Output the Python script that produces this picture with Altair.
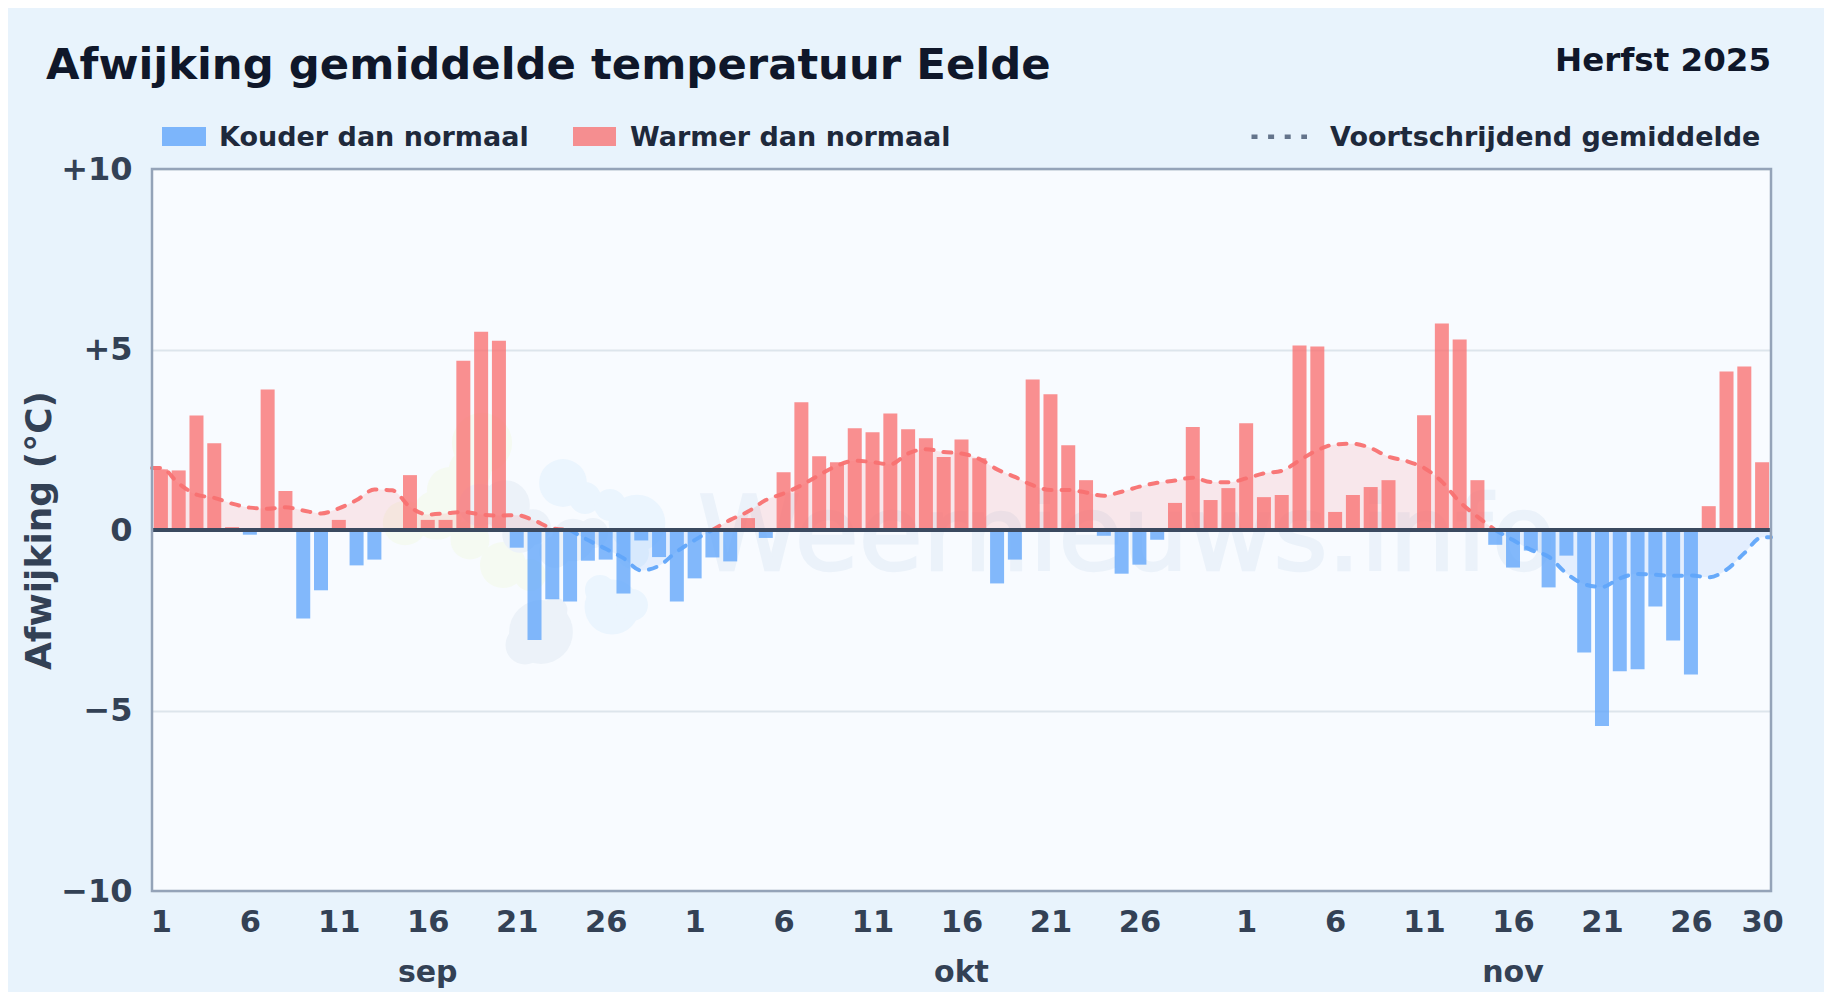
import altair as alt
import pandas as pd

# Daily anomaly values (degC), Sept 1 .. Nov 30
sep_vals = [1.68, 1.65, 3.17, 2.40, 0.08, -0.13, 3.89, 1.08, -2.45, -1.67,
            0.28, -0.98, -0.82, 0.0, 1.52, 0.28, 0.28, 4.69, 5.49, 5.24,
            -0.49, -3.05, -1.92, -1.98, -0.85, -0.82, -1.76, -0.29, -0.75, -1.98]
oct_vals = [-1.34, -0.76, -0.87, 0.33, -0.22, 1.60, 3.54, 2.04, 1.88, 2.82,
            2.71, 3.23, 2.79, 2.54, 2.02, 2.51, 1.99, -1.48, -0.82, 4.17,
            3.76, 2.35, 1.38, -0.16, -1.21, -0.96, -0.27, 0.75, 2.85, 0.83, 1.16]
nov_vals = [2.96, 0.91, 0.97, 5.11, 5.08, 0.50, 0.97, 1.19, 1.38, 0.0,
            3.18, 5.72, 5.28, 1.38, -0.41, -1.04, -0.57, -1.59, -0.71, -3.39,
            -5.43, -3.91, -3.86, -2.12, -3.06, -4.00, 0.66, 4.39, 4.53, 1.88]

# Running mean
sep_ma = [1.72, 1.29, 0.98, 0.89, 0.73, 0.62, 0.59, 0.63, 0.54, 0.46,
          0.60, 0.83, 1.12, 1.10, 0.64, 0.43, 0.46, 0.50, 0.43, 0.40,
          0.41, 0.26, 0.05, 0.0, -0.28, -0.52, -0.78, -1.12, -0.99, -0.60]
oct_ma = [-0.28, 0.0, 0.28, 0.51, 0.83, 1.01, 1.24, 1.52, 1.78, 1.92,
          1.88, 1.82, 2.12, 2.24, 2.16, 2.12, 1.97, 1.68, 1.47, 1.24,
          1.11, 1.11, 1.04, 0.95, 1.06, 1.20, 1.31, 1.37, 1.45, 1.33, 1.32]
nov_ma = [1.43, 1.57, 1.64, 1.93, 2.21, 2.37, 2.39, 2.27, 2.03, 1.91,
          1.72, 1.34, 0.78, 0.37, 0.0, -0.28, -0.55, -0.74, -1.20, -1.50,
          -1.58, -1.34, -1.22, -1.24, -1.27, -1.26, -1.31, -1.10, -0.64, -0.20]

month_names = ["sep", "okt", "nov"]
month_centers = [16, 46, 77]
y_ticks = [-10, -5, 0, 5, 10]
x_ticks = [1, 6, 11, 16, 21, 26, 31, 36, 41, 46, 51, 56,
           62, 67, 72, 77, 82, 87, 91]

FONT = "DejaVu Sans"
RED, BLUE = "#f87171", "#60a5fa"
INK, AXIS_INK = "#0f172a", "#334155"
W, H = 1619, 722
L, T = 152, 169

values = sep_vals + oct_vals + nov_vals
ma = sep_ma + oct_ma + nov_ma
days = list(range(1, len(values) + 1))

bars = pd.DataFrame({"day": days, "val": values})
bars["kind"] = ["warm" if v >= 0 else "cold" for v in values]

# curve runs out to both plot edges
cx = [0.5] + days + [91.5]
cy = [ma[0]] + ma + [ma[-1]]
rows, seg, cur = [], 0, None
for i, (d, v) in enumerate(zip(cx, cy)):
    k = cur if v == 0 else ("warm" if v > 0 else "cold")
    if cur is None:
        cur = k
    if k != cur:
        seg += 1
        cur = k
    rows.append({"day": d, "ma": v, "kind": cur, "seg": seg})
    if v == 0:
        seg += 1
        nxt = cy[i + 1]
        cur = "warm" if nxt > 0 else "cold"
        rows.append({"day": d, "ma": v, "kind": cur, "seg": seg})
curve = pd.DataFrame(rows)

xscale = alt.Scale(domain=[0.5, 91.5], nice=False, zero=False, padding=0)
yscale = alt.Scale(domain=[-10, 10], nice=False)
cscale = alt.Scale(domain=["warm", "cold"], range=[RED, BLUE])

month_expr = "datum.value <= 30 ? datum.value : datum.value <= 61 ? datum.value - 30 : datum.value - 61"
x_axis = alt.Axis(values=x_ticks, labelExpr=month_expr, title=None, grid=False, ticks=False,
                  domain=False, labelFont=FONT, labelFontSize=30.5, labelFontWeight="bold",
                  labelColor=AXIS_INK, labelPadding=16, labelOverlap=False, labelFlush=False)
y_axis = alt.Axis(values=y_ticks,
                  labelExpr="datum.value > 0 ? '+' + datum.value : datum.value < 0 ? '\u2212' + abs(datum.value) : '0'",
                  title="Afwijking (\u00b0C)", titleFont=FONT, titleFontSize=36, titleFontWeight="bold",
                  titleColor=AXIS_INK, titleX=-113, titleY=H / 2, titleAlign="center", titleBaseline="middle",
                  ticks=False, domain=False, grid=True, gridColor="#dde5ec", gridWidth=2,
                  labelFont=FONT, labelFontSize=32, labelFontWeight="bold", labelColor=AXIS_INK,
                  labelPadding=20, labelOverlap=False)

def text_layer(label, px, py, size, color=INK, align="left", weight="bold", opacity=1.0, **extra):
    return alt.Chart(pd.DataFrame({"label": [label]})).mark_text(
        font=FONT, fontSize=size, fontWeight=weight, color=color, align=align,
        baseline="alphabetic", opacity=opacity, **extra
    ).encode(x=alt.value(px - L), y=alt.value(py - T), text="label:N")

def blob(cx_, cy_, r, color):
    return alt.Chart(pd.DataFrame({"k": [0]})).mark_circle(color=color, opacity=1).encode(
        x=alt.value(cx_ - L), y=alt.value(cy_ - T), size=alt.value(3.1416 * r * r))

def swatch(x0, x1, y0, y1, color, opacity):
    return alt.Chart(pd.DataFrame({"k": [0]})).mark_rect(color=color, opacity=opacity).encode(
        x=alt.value(x0 - L), x2=alt.value(x1 - L), y=alt.value(y0 - T), y2=alt.value(y1 - T))

GREEN_W, BLUE_W, GREY_W = "#f5faf2", "#ebf5fe", "#ecf2f9"
watermark = [blob(*c, GREEN_W) for c in [
    (482, 443, 34), (470, 470, 24), (450, 490, 26), (405, 523, 25), (437, 515, 28),
    (470, 540, 22), (503, 565, 26), (530, 575, 18)]]
watermark += [blob(*c, BLUE_W) for c in [
    (563, 483, 27), (585, 498, 18), (610, 505, 18), (637, 523, 32), (633, 553, 18),
    (612, 607, 31), (600, 590, 17), (632, 605, 18)]]
watermark += [blob(*c, GREY_W) for c in [
    (505, 505, 28), (480, 505, 24), (533, 527, 20), (520, 535, 20), (573, 540, 24),
    (593, 533, 17), (555, 552, 18), (541, 632, 36), (525, 645, 22), (555, 610, 14)]]
watermark.append(text_layer("Weernieuws.info", 698, 570, 104, "#ebf2fa", weight="normal",
                            stroke="#ebf2fa", strokeWidth=2.5))

xe = alt.X("day:Q", scale=xscale, axis=x_axis)
ye_ma = alt.Y("ma:Q", scale=yscale, axis=y_axis)
ye_val = alt.Y("val:Q", scale=yscale, axis=y_axis)

area = alt.Chart(curve).mark_area(interpolate="monotone", opacity=0.14).encode(
    x=xe, y=ye_ma, y2=alt.datum(0),
    color=alt.Color("kind:N", scale=cscale, legend=None),
    detail="seg:N",
)
bar = alt.Chart(bars).mark_bar(size=14, opacity=0.78).encode(
    x=xe, y=ye_val, y2=alt.datum(0),
    color=alt.Color("kind:N", scale=cscale, legend=None),
)
line = alt.Chart(curve).mark_line(interpolate="monotone", strokeWidth=4, strokeDash=[8, 10],
                                  strokeCap="round", opacity=0.95).encode(
    x=xe, y=ye_ma,
    color=alt.Color("kind:N", scale=cscale, legend=None),
    detail="seg:N",
)
zero = alt.Chart(pd.DataFrame({"v": [0]})).mark_rule(color="#3b4a60", strokeWidth=4).encode(
    y=alt.Y("v:Q", scale=yscale, axis=y_axis))
months = alt.Chart(pd.DataFrame({"m": month_names, "d": month_centers})).mark_text(
    font=FONT, fontSize=30, fontWeight="bold", color=AXIS_INK, baseline="alphabetic"
).encode(x=alt.X("d:Q", scale=xscale, axis=x_axis), y=alt.value(982 - T), text="m:N")

dots = alt.Chart(pd.DataFrame({"k": [0]})).mark_rule(color="#64748b", strokeWidth=4.5, strokeDash=[6, 10.6]).encode(
    x=alt.value(1251.5 - L), x2=alt.value(1307 - L), y=alt.value(136.7 - T))

# plot frame, drawn above the marks
frame = alt.Chart(pd.DataFrame({"k": [0]})).mark_rect(
    fill="transparent", stroke="#94a3b8", strokeWidth=2.5
).encode(x=alt.value(0), x2=alt.value(W), y=alt.value(0), y2=alt.value(H))

chart = alt.layer(
    *watermark, area, bar, line, zero, frame, months,
    text_layer("Afwijking gemiddelde temperatuur Eelde", 46, 79, 43.35),
    text_layer("Herfst 2025", 1771, 71, 32.5, align="right"),
    swatch(162, 206, 127, 146, BLUE, 0.8),
    text_layer("Kouder dan normaal", 219, 146, 27, "#1e293b"),
    swatch(573, 616, 127, 146, RED, 0.78),
    text_layer("Warmer dan normaal", 630, 146, 27, "#1e293b"),
    dots,
    text_layer("Voortschrijdend gemiddelde", 1330, 146, 27, "#1e293b"),
).resolve_scale(color="shared").properties(
    width=W, height=H,
    autosize=alt.AutoSizeParams(type="none"),
    padding={"left": L - 8, "top": T - 8, "right": 1816 - (L - 8) - W, "bottom": 984 - (T - 8) - H},
    background="#e8f3fc",
).configure_view(fill="#f8fbff", stroke=None)

chart.save("out.html", embed_options={"renderer": "svg", "actions": False})
